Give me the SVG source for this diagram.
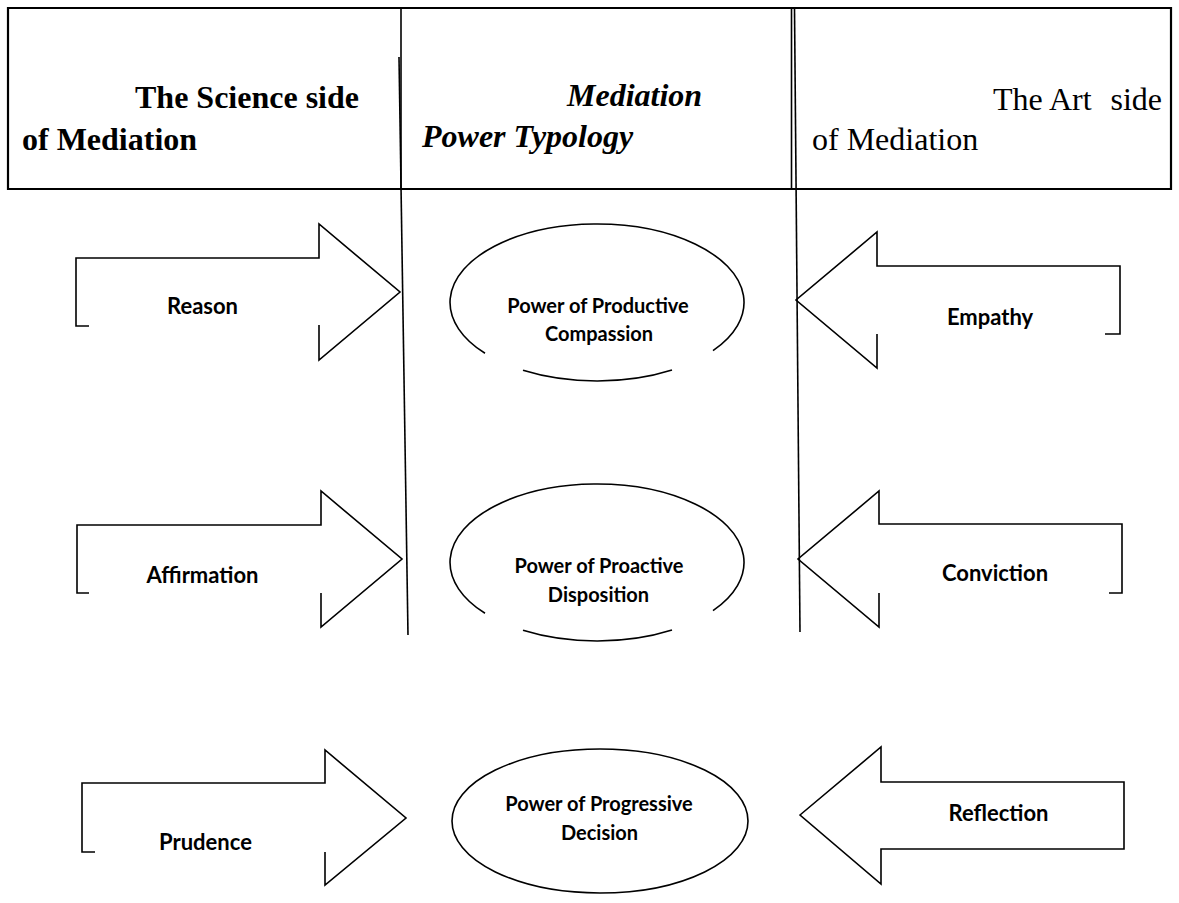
<svg xmlns="http://www.w3.org/2000/svg" width="1179" height="903" viewBox="0 0 1179 903">
<defs>
<style>
.bg{fill:#ffffff}
.ln{fill:none;stroke:#000;stroke-width:1.6;stroke-linecap:butt;stroke-linejoin:miter}
.tb{fill:none;stroke:#000;stroke-width:2.2}
.hb{font-family:"Liberation Serif","Times New Roman",serif;font-size:32px;font-weight:bold;fill:#000}
.hbi{font-family:"Liberation Serif","Times New Roman",serif;font-size:32px;font-weight:bold;font-style:italic;fill:#000}
.hr{font-family:"Liberation Serif","Times New Roman",serif;font-size:32px;fill:#000}
.lb{font-family:Lato,"Open Sans",sans-serif;font-size:22px;font-weight:bold;fill:#000;text-anchor:middle}
.eb{font-family:Lato,"Open Sans",sans-serif;font-size:20px;font-weight:bold;fill:#000;text-anchor:middle}
</style>
</defs>
<rect class="bg" x="0" y="0" width="1179" height="903"/>
<g id="table">
<line class="tb" x1="7" y1="8" x2="1172" y2="8"/>
<line class="tb" x1="8" y1="7" x2="8" y2="190"/>
<line class="tb" x1="1171" y1="7" x2="1171" y2="190"/>
<line class="tb" x1="7" y1="189" x2="1172" y2="189"/>
<line class="ln" x1="401" y1="8" x2="401" y2="190"/>
<line class="ln" x1="399" y1="57" x2="408" y2="635"/>
<line class="ln" x1="791.5" y1="8" x2="791.5" y2="190"/>
<line class="ln" x1="794.5" y1="8" x2="800" y2="632"/>
</g>
<g id="header-science">
<text class="hb" x="135" y="108">The Science side</text>
<text class="hb" x="22" y="150">of Mediation</text>
</g>
<g id="header-typology">
<text class="hbi" x="567" y="106">Mediation</text>
<text class="hbi" x="422" y="147">Power Typology</text>
</g>
<g id="header-art">
<text class="hr" x="993" y="110">The Art</text>
<text class="hr" x="1162" y="110" text-anchor="end">side</text>
<text class="hr" x="812" y="150">of Mediation</text>
</g>
<g id="node-compassion">
<path class="ln" d="M485,353.3 A147,78.5 0 1 1 713,350.7"/>
<path class="ln" d="M523,370.3 A147,78.5 0 0 0 672,370"/>
<text class="eb" x="598" y="313">Power of Productive</text>
<text class="eb" x="599" y="341">Compassion</text>
</g>
<g id="node-disposition">
<path class="ln" d="M485,613.3 A147,78.5 0 1 1 713,610.7"/>
<path class="ln" d="M523,630.3 A147,78.5 0 0 0 672,630"/>
<text class="eb" x="599" y="573">Power of Proactive</text>
<text class="eb" x="598.5" y="602">Disposition</text>
</g>
<g id="node-decision">
<ellipse class="ln" cx="600" cy="821" rx="148" ry="72"/>
<text class="eb" x="599" y="811">Power of Progressive</text>
<text class="eb" x="599.5" y="840">Decision</text>
</g>
<g id="connectors">
<g id="arrow-reason">
<path class="ln" d="M89,326 H76 V258 H319 V224 L400,292 L319,360 V325"/>
<text class="lb" x="202.5" y="314">Reason</text>
</g>
<g id="arrow-affirmation">
<path class="ln" d="M89,593 H77 V525 H321 V491 L402,559 L321,627 V593"/>
<text class="lb" x="202.5" y="583">Affirmation</text>
</g>
<g id="arrow-prudence">
<path class="ln" d="M95,852 H82 V783 H325 V750 L406,818 L325,885 V852"/>
<text class="lb" x="205.5" y="850">Prudence</text>
</g>
<g id="arrow-empathy">
<path class="ln" d="M1105,334 H1120 V266 H877 V232 L796,300 L877,368 V334"/>
<text class="lb" x="990" y="325">Empathy</text>
</g>
<g id="arrow-conviction">
<path class="ln" d="M1109,593 H1122 V524 H879 V491 L798,559 L879,627 V593"/>
<text class="lb" x="995" y="581">Conviction</text>
</g>
<g id="arrow-reflection">
<path class="ln" d="M800,815 L881,747 V782 H1124 V849 H881 V884 Z"/>
<text class="lb" x="998.5" y="821">Reflection</text>
</g>
</g>
</svg>
